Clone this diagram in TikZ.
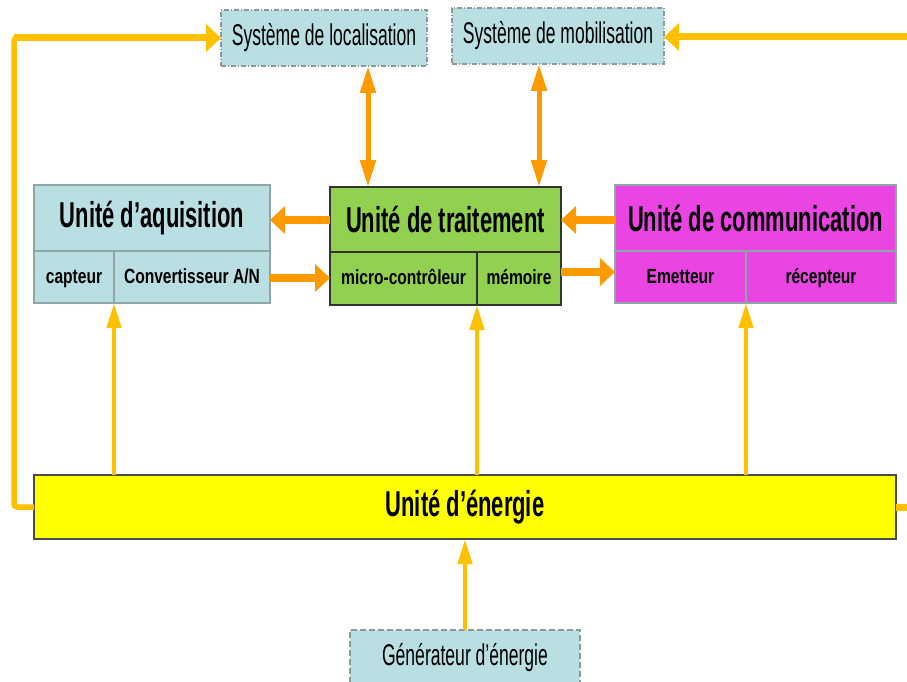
\documentclass[tikz,border=0pt]{standalone}
\usepackage{fontspec}
\setmainfont{Liberation Sans}
\newfontfamily\bigf[FakeStretch=0.61]{Liberation Sans}
\newfontfamily\smallf[FakeStretch=0.76]{Liberation Sans}
\newfontfamily\sysf[FakeStretch=0.585]{Liberation Sans}
\usetikzlibrary{arrows.meta}
\definecolor{lblue}{HTML}{BADFE3}
\definecolor{lgreen}{HTML}{92D050}
\definecolor{magen}{HTML}{EA45E3}
\definecolor{yel}{HTML}{FFFF00}
\definecolor{orng}{HTML}{FF9900}
\definecolor{gold}{HTML}{FFC000}
\definecolor{bgray}{HTML}{8FA5A8}
\definecolor{dgray}{HTML}{8A9A9A}
\tikzset{
  box/.style={draw, rectangle, inner sep=0pt, outer sep=0pt, line width=1.2pt, align=center},
  bigtxt/.style={font=\bigf\bfseries\fontsize{36}{38}\selectfont},
  smalltxt/.style={font=\smallf\bfseries\fontsize{20.5}{22}\selectfont, text depth=0pt, text height=12pt},
  systxt/.style={font=\sysf\fontsize{30}{32}\selectfont},
  bluebox/.style={box, fill=lblue, draw=bgray},
  greenbox/.style={box, fill=lgreen, draw=black!80},
  magbox/.style={box, fill=magen, draw=bgray},
  sysbox/.style={box, fill=lblue, draw=dgray, dash pattern=on 5pt off 2pt on 1pt off 2pt},
  orarrow/.style={draw=orng, line width=8pt, -{Triangle[length=15pt,width=27pt]}},
  ordbl/.style={draw=orng, line width=5pt, {Triangle[length=27pt,width=15pt]}-{Triangle[length=27pt,width=15pt]}},
  goldarrow/.style={draw=gold, line width=4.5pt, -{Triangle[length=25pt,width=14pt]}},
  goldline/.style={draw=gold, line width=5.5pt},
  goldbig/.style={draw=gold, line width=7pt, -{Triangle[length=15pt,width=27pt]}},
}
\begin{document}
\begin{tikzpicture}[x=1pt,y=-1pt]
\useasboundingbox (0,0) rectangle (907,682);
\clip (0,0) rectangle (907,682);
% system boxes
\node[sysbox, systxt, minimum width=206pt, minimum height=56pt] (loc) at (324,38) {Système de localisation};
\node[sysbox, systxt, minimum width=212pt, minimum height=56pt] (mob) at (558,36) {Système de mobilisation};
% acquisition
\node[bluebox, bigtxt, minimum width=236pt, minimum height=66pt] (acq) at (152,218) {Unité d’aquisition};
\node[bluebox, smalltxt, minimum width=80pt, minimum height=52pt] (capt) at (74,277) {capteur};
\node[bluebox, smalltxt, minimum width=156pt, minimum height=52pt] (conv) at (192,277) {Convertisseur A/N};
% traitement
\node[greenbox, bigtxt, minimum width=231pt, minimum height=65pt] (trait) at (445.5,219.5) {Unité de traitement};
\node[greenbox, smalltxt, minimum width=147pt, minimum height=53pt] (micro) at (403.5,278.5) {micro-contrôleur};
\node[greenbox, smalltxt, minimum width=84pt, minimum height=53pt] (mem) at (519,278.5) {mémoire};
% communication
\node[magbox, bigtxt, minimum width=281pt, minimum height=66pt] (comm) at (755.5,218) {Unité de communication};
\node[magbox, smalltxt, minimum width=131pt, minimum height=52pt] (emet) at (680.5,277) {Emetteur};
\node[magbox, smalltxt, minimum width=150pt, minimum height=52pt] (recep) at (821,277) {récepteur};
% energie
\node[box, fill=yel, draw=black!70, bigtxt, minimum width=862pt, minimum height=64pt] (ener) at (465,507) {Unité d’énergie};
\node[box, fill=lblue, draw=dgray, dash pattern=on 6pt off 3pt, minimum width=230pt, minimum height=60pt] (gen) at (465,660) {};
\node[systxt] (gentxt) at (465,658) {Générateur d’énergie};
% orange horizontal arrows
\draw[orarrow] (trait.west |- 0,220) -- (acq.east |- 0,220);
\draw[orarrow] (conv.east |- 0,278) -- (micro.west |- 0,278);
\draw[orarrow] (comm.west |- 0,220) -- (trait.east |- 0,220);
\draw[orarrow] (mem.east |- 0,272) -- (emet.west |- 0,272);
% double arrows
\draw[ordbl] ([xshift=44pt]loc.south) -- ([xshift=44pt]loc.south |- trait.north);
\draw[ordbl] ([xshift=-19pt]mob.south) -- ([xshift=-19pt]mob.south |- trait.north);
% energy arrows
\draw[goldarrow] (ener.north -| capt.south east) -- (capt.south east);
\draw[goldarrow] (ener.north -| micro.south east) -- (micro.south east);
\draw[goldarrow] (ener.north -| emet.south east) -- (emet.south east);
\draw[goldarrow] (gen.north) -- (ener.south);
% loops
\draw[goldline, rounded corners=3pt] (ener.west) -- (14,507) -- (14,38) -- (200,38);
\draw[goldbig] (14,38) -- (loc.west);
\coordinate (rend) at (907,507);
\coordinate (rtop) at (907,37);
\draw[goldline, line width=7pt] (ener.east) -- (rend);
\draw[goldbig] (rtop) -- (mob.east |- rtop);
\end{tikzpicture}
\end{document}
